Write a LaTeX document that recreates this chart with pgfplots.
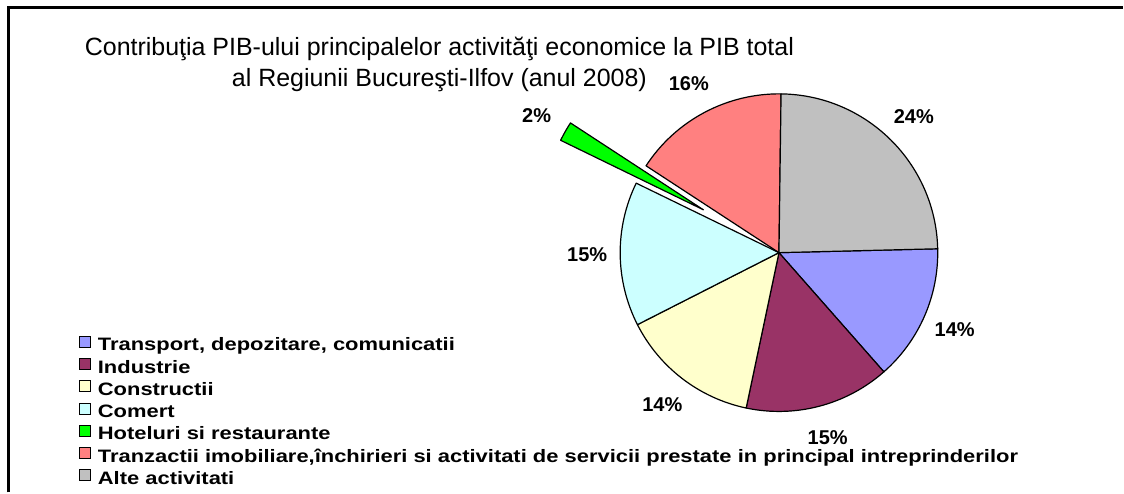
\documentclass[border=0pt]{standalone}
\usepackage{fontspec}
\setmainfont{Liberation Sans}
\newfontfamily\legfont[FakeStretch=1.22]{Liberation Sans}
\usepackage{pgfplots}
\usepackage{pgfplotstable}
\pgfplotsset{compat=1.18}

% Excel palette, slice order = legend order (clockwise)
\definecolor{pie0}{HTML}{9999FF}
\definecolor{pie1}{HTML}{993366}
\definecolor{pie2}{HTML}{FFFFCC}
\definecolor{pie3}{HTML}{CCFFFF}
\definecolor{pie4}{HTML}{00FF00}
\definecolor{pie5}{HTML}{FF8080}
\definecolor{pie6}{HTML}{C0C0C0}

\pgfplotstableread{
value label explode
13.9  14    0
14.8  15    0
14.2  14    0
14.7  15    0
2.0   2     87
16.0  16    0
24.4  24    0
}\piedata

\def\cx{780}\def\cy{240}\def\rad{159}\def\rot{1.4}\def\lrad{192}

% slice angles from the values
\def\cum{0}
\pgfplotsforeachungrouped \i in {0,...,6}{%
  \pgfplotstablegetelem{\i}{value}\of\piedata
  \let\v\pgfplotsretval
  \pgfplotstablegetelem{\i}{label}\of\piedata
  \expandafter\xdef\csname pieL\i\endcsname{\pgfplotsretval}%
  \pgfplotstablegetelem{\i}{explode}\of\piedata
  \let\off\pgfplotsretval
  \pgfmathsetmacro\s{\rot-3.6*\cum}%
  \pgfmathsetmacro\e{\s-3.6*\v}%
  \pgfmathsetmacro\m{(\s+\e)/2}%
  \pgfmathsetmacro\ox{\cx+\off*cos(\m)}%
  \pgfmathsetmacro\oy{\cy+\off*sin(\m)}%
  \pgfmathsetmacro\lx{\ox+\lrad*cos(\m)}%
  \pgfmathsetmacro\ly{\oy+\lrad*sin(\m)}%
  \expandafter\xdef\csname pieS\i\endcsname{\s}%
  \expandafter\xdef\csname pieE\i\endcsname{\e}%
  \expandafter\xdef\csname pieOX\i\endcsname{\ox}%
  \expandafter\xdef\csname pieOY\i\endcsname{\oy}%
  \expandafter\xdef\csname pieLX\i\endcsname{\lx}%
  \expandafter\xdef\csname pieLY\i\endcsname{\ly}%
  \pgfmathsetmacro\cum{\cum+\v}%
}

\pgfplotsset{sqlegend/.style={legend image code/.code={%
  \draw[##1] (0pt,-0.5pt) rectangle (11pt,10.5pt);}}}

\begin{document}
\begin{tikzpicture}
\begin{axis}[
    scale only axis,
    width=1124pt, height=493pt,
    xmin=0, xmax=1124, ymin=0, ymax=493,
    hide axis, clip=false,
    legend cell align=left,
    legend style={at={(axis cs:79,157)}, anchor=north west, draw=none, fill=none,
        inner sep=0pt, row sep=4.2pt,
        font=\legfont\bfseries\fontsize{18}{18}\selectfont,
        nodes={inner sep=0pt, text height=11.4pt, text depth=3pt},
        /tikz/every odd column/.append style={column sep=7pt}},
]
\path (axis cs:0,0) rectangle (axis cs:1124,493);
\draw[line width=3pt] (axis cs:8.5,0) -- (axis cs:8.5,485.5) -- (axis cs:1124,485.5);

\pgfplotsinvokeforeach{0,...,6}{
  \filldraw[fill=pie#1, draw=black, line width=1.2pt, line join=round]
    (axis cs:\csname pieOX#1\endcsname,\csname pieOY#1\endcsname)
    -- ++(\csname pieS#1\endcsname:\rad pt)
    arc[start angle=\csname pieS#1\endcsname, end angle=\csname pieE#1\endcsname, radius=\rad pt]
    -- cycle;
  \node[font=\bfseries\fontsize{20}{20}\selectfont]
    at (axis cs:\csname pieLX#1\endcsname,\csname pieLY#1\endcsname) {\csname pieL#1\endcsname\%};
}

\node[font=\fontsize{25}{31}\selectfont, align=center] at (axis cs:440,428.5)
  {Contribuţia PIB-ului principalelor activităţi economice la PIB total\\al Regiunii Bucureşti-Ilfov (anul 2008)};

\addlegendimage{sqlegend, fill=pie0, draw=black, line width=0.8pt}
\addlegendentry{Transport, depozitare, comunicatii}
\addlegendimage{sqlegend, fill=pie1, draw=black, line width=0.8pt}
\addlegendentry{Industrie}
\addlegendimage{sqlegend, fill=pie2, draw=black, line width=0.8pt}
\addlegendentry{Constructii}
\addlegendimage{sqlegend, fill=pie3, draw=black, line width=0.8pt}
\addlegendentry{Comert}
\addlegendimage{sqlegend, fill=pie4, draw=black, line width=0.8pt}
\addlegendentry{Hoteluri si restaurante}
\addlegendimage{sqlegend, fill=pie5, draw=black, line width=0.8pt}
\addlegendentry{Tranzactii imobiliare,închirieri si activitati de servicii prestate in principal intreprinderilor}
\addlegendimage{sqlegend, fill=pie6, draw=black, line width=0.8pt}
\addlegendentry{Alte activitati}
\end{axis}
\end{tikzpicture}
\end{document}
